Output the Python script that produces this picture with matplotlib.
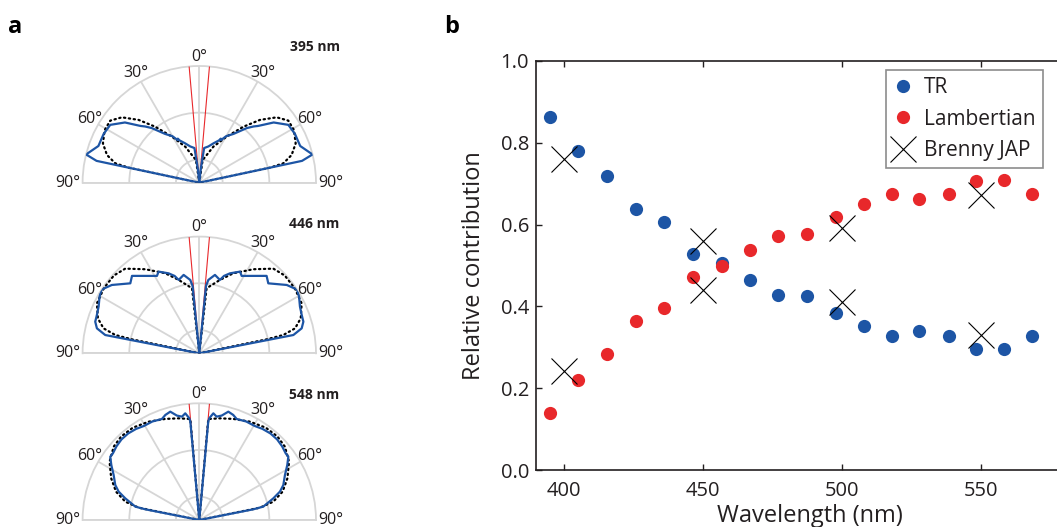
import numpy as np
import matplotlib
matplotlib.use('Agg')
import matplotlib.pyplot as plt

plt.rcParams['font.family'] = ['Open Sans', 'DejaVu Sans']

# ---- panel b: relative contributions
wl = [395, 405, 415.5, 426, 436, 446.5, 457, 467, 477, 487.5, 498, 508, 518, 528, 538.5, 548.5, 558.5, 568.5]
tr = [0.862, 0.780, 0.718, 0.637, 0.606, 0.529, 0.507, 0.464, 0.429, 0.425,
      0.383, 0.353, 0.328, 0.340, 0.327, 0.295, 0.295, 0.327]
lamb = [0.140, 0.221, 0.284, 0.365, 0.396, 0.472, 0.498, 0.537, 0.572, 0.577,
        0.618, 0.650, 0.674, 0.662, 0.675, 0.707, 0.708, 0.675]
jap_wl = [400, 400, 450, 450, 500, 500, 550, 550]
jap_val = [0.761, 0.242, 0.559, 0.440, 0.592, 0.411, 0.672, 0.330]

# ---- panel a: angular profiles, right half (deg from normal, radius), mirrored to the left
names = ['395 nm', '446 nm', '548 nm']
blue_th = [
    [4, 6, 7, 8, 14, 20, 25, 26, 27, 30, 35, 41, 44, 46, 51, 57, 63, 70, 76, 78, 90],
    [3, 5.7, 7, 11.3, 15.7, 17.7, 21, 26.5, 28.7, 41, 44.6, 52, 56.9, 60.4, 65.1, 69.5, 73.1, 76.3, 79, 90],
    [4, 5.2, 5.6, 7.5, 9.5, 12.1, 15, 17.9, 20.3, 25.5, 30.4, 34.7, 39.4, 44, 48.3, 52.4, 54.6, 58,
     62.3, 67.4, 70.6, 73.7, 78.2, 78.8, 90],
]
blue_r = [
    [0, 0.10, 0.18, 0.30, 0.32, 0.36, 0.40, 0.42, 0.41, 0.46, 0.51, 0.62, 0.67, 0.70, 0.82, 0.91, 0.92,
     0.92, 1.00, 0.90, 0],
    [0, 0.580, 0.633, 0.685, 0.653, 0.696, 0.734, 0.782, 0.756, 0.879, 0.842, 0.951, 1.0, 0.983, 0.951,
     0.937, 0.932, 0.903, 0.821, 0],
    [0, 0.846, 0.876, 0.922, 0.898, 0.915, 0.961, 0.946, 0.923, 0.935, 0.935, 0.95, 0.96, 0.96, 0.95,
     0.935, 0.936, 0.889, 0.829, 0.780, 0.733, 0.661, 0.560, 0.472, 0],
]
dot_th = [
    [4, 8.4, 21.3, 30.7, 38.2, 44, 49.8, 55.1, 60.9, 67.8, 73.3, 77, 78, 80],
    [3, 6.4, 15.7, 23, 32.7, 41.2, 47.7, 55.6, 64, 71, 75.4, 77.7, 78.3, 80],
    [4, 5.1, 11.5, 18.6, 27.3, 35.8, 43.1, 49.4, 57, 64.7, 71.2, 76.1, 78.5, 80],
]
dot_r = [
    [0, 0.196, 0.331, 0.459, 0.610, 0.748, 0.868, 0.930, 0.928, 0.892, 0.826, 0.739, 0.619, 0],
    [0, 0.561, 0.653, 0.745, 0.856, 0.964, 0.99, 0.99, 0.976, 0.919, 0.848, 0.737, 0.589, 0],
    [0, 0.869, 0.889, 0.914, 0.948, 0.975, 0.98, 0.966, 0.917, 0.835, 0.754, 0.653, 0.531, 0],
]
red_th = [5, 5]
red_r = [0, 1]

grid_th = [-90, -60, -30, 0, 30, 60, 90]
grid_lab = ['90°', '60°', '30°', '0°', '30°', '60°', '90°']

BLUE = '#1d55a5'
RED = '#e8282b'
GREY = '#d6d6d6'
TXT = '#231f20'

W, H = 1057, 527
fig = plt.figure(figsize=(W / 100, H / 100), dpi=100)

# baseline y (px from top) of each half-disc, radius in px
centres = [182.7, 353.3, 520.0]
cx, R = 199.3, 116.7
name_base = [50.7, 227.7, 399.3]

for i in range(3):
    cy = centres[i]
    # polar wedge is fitted into a square box, the half disc sits in its middle
    ax = fig.add_axes([(cx - R) / W, (H - (cy + 0.5 * R)) / H, 2 * R / W, 2 * R / H], projection='polar')
    ax.set_theta_zero_location('N')
    ax.set_theta_direction(-1)
    ax.set_thetamin(-90)
    ax.set_thetamax(90)
    ax.set_ylim(0, 1)
    ax.set_xticks(np.deg2rad(grid_th))
    ax.set_xticklabels([])
    ax.set_yticks([0.2, 0.6])
    ax.set_yticklabels([])
    ax.grid(True, color=GREY, lw=1.3)
    for s in ['polar', 'start', 'end']:
        ax.spines[s].set_color(GREY)
        ax.spines[s].set_linewidth(1.3)
    ax.spines['inner'].set_visible(False)

    for sgn in (1, -1):
        ax.plot(np.deg2rad(np.array(red_th) * sgn), red_r, color=RED, lw=0.8, zorder=3)
        ax.plot(np.deg2rad(np.array(dot_th[i]) * sgn), dot_r[i], color='black', lw=1.6,
                ls=(0, (0.6, 1.6)), dash_capstyle='round', zorder=4)
        ax.plot(np.deg2rad(np.array(blue_th[i]) * sgn), blue_r[i], color=BLUE, lw=1.6, zorder=5)

    for t, lab in zip(grid_th, grid_lab):
        rr = 1.08 if t == 0 else (1.13 if abs(t) == 90 else 1.09)
        ax.text(np.deg2rad(t), rr, lab, ha='center', va='center', fontsize=11.5, color=TXT)

    fig.text(339.5 / W, 1 - name_base[i] / H, names[i], ha='right', va='baseline',
             fontsize=10, fontweight='bold', color=TXT)

fig.text(8 / W, 1 - 33 / H, 'a', ha='left', va='baseline', fontsize=17, fontweight='bold')
fig.text(444 / W, 1 - 33 / H, 'b', ha='left', va='baseline', fontsize=17, fontweight='bold')

# ---- panel b
axb = fig.add_axes([536 / W, (H - 470) / H, 528 / W, 409 / H])
axb.plot(wl, tr, 'o', color=BLUE, ms=9.5, mew=0, label='TR')
axb.plot(wl, lamb, 'o', color=RED, ms=9.5, mew=0, label='Lambertian')
axb.plot(jap_wl, jap_val, 'x', color='black', ms=19, mew=0.8, label='Brenny JAP')
axb.set_xlim(390, 580)
axb.set_ylim(0, 1.0)
axb.set_xticks([400, 450, 500, 550])
axb.set_yticks([0.0, 0.2, 0.4, 0.6, 0.8, 1.0])
axb.set_yticklabels(['0.0', '0.2', '0.4', '0.6', '0.8', '1.0'])
axb.tick_params(direction='in', length=4, width=1, labelsize=14.5, colors=TXT, top=True, right=True)
axb.tick_params(axis='x', pad=8)
axb.tick_params(axis='y', pad=5)
for s in axb.spines.values():
    s.set_linewidth(1.2)
    s.set_color(TXT)
axb.set_xlabel('Wavelength (nm)', fontsize=17, color=TXT)
axb.set_ylabel('Relative contribution', fontsize=17, color=TXT)
axb.xaxis.set_label_coords(0.519, -0.083)
axb.yaxis.set_label_coords(-0.095, 0.5)

leg = axb.legend(loc='upper right', bbox_to_anchor=(1043 / W, 1 - 70 / H), bbox_transform=fig.transFigure,
                 borderaxespad=0, fontsize=15, frameon=True, fancybox=False, framealpha=1,
                 handlelength=1.0, handletextpad=0.5, labelspacing=0.5, borderpad=0.35,
                 numpoints=1)
leg.get_frame().set_edgecolor('#8c8c8c')
leg.get_frame().set_linewidth(1.2)
for t in leg.get_texts():
    t.set_color(TXT)

fig.savefig('out.png', dpi=100)
